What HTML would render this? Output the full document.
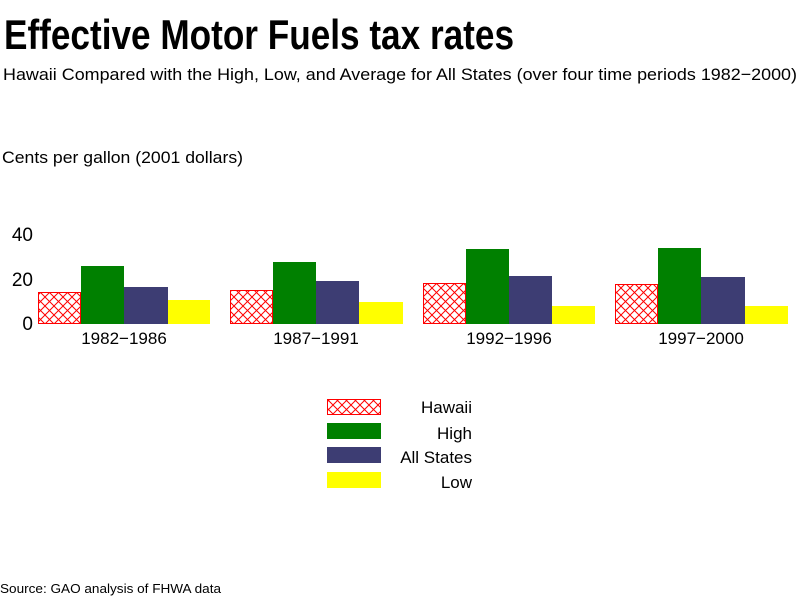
<!DOCTYPE html>
<html><head><meta charset="utf-8"><style>body{margin:0;background:#fff}svg{display:block}</style></head><body>
<svg width="800" height="600" xmlns="http://www.w3.org/2000/svg" font-family="Liberation Sans, Arial, sans-serif">
<defs>
<pattern id="h" width="9" height="9" patternUnits="userSpaceOnUse">
<rect width="9" height="9" fill="#fff"/>
<path d="M0,0L9,9M9,0L0,9" stroke="#f00" stroke-width="1"/>
</pattern>
</defs>
<rect width="800" height="600" fill="#fff"/>
<text x="4" y="49" font-size="42" font-weight="bold" textLength="510" lengthAdjust="spacingAndGlyphs">Effective Motor Fuels tax rates</text>
<text x="3" y="80" font-size="17" textLength="794" lengthAdjust="spacingAndGlyphs">Hawaii Compared with the High, Low, and Average for All States (over four time periods 1982−2000)</text>
<text x="2" y="163" font-size="17" textLength="241" lengthAdjust="spacingAndGlyphs">Cents per gallon (2001 dollars)</text>
<g font-size="19" text-anchor="end">
<text x="33" y="241">40</text>
<text x="33" y="286">20</text>
<text x="33" y="330">0</text>
</g>
<g stroke-width="1">
<rect x="38.5" y="292.5" width="42" height="31" fill="url(#h)" stroke="#f00"/>
<rect x="81" y="266" width="43" height="58" fill="#008000"/>
<rect x="124" y="287" width="44" height="37" fill="#3d3d73"/>
<rect x="168" y="300" width="42" height="24" fill="#ffff00"/>

<rect x="230.5" y="290.5" width="42" height="33" fill="url(#h)" stroke="#f00"/>
<rect x="273" y="262" width="43" height="62" fill="#008000"/>
<rect x="316" y="281" width="43" height="43" fill="#3d3d73"/>
<rect x="359" y="302" width="44" height="22" fill="#ffff00"/>

<rect x="423.5" y="283.5" width="42" height="40" fill="url(#h)" stroke="#f00"/>
<rect x="466" y="249" width="43" height="75" fill="#008000"/>
<rect x="509" y="276" width="43" height="48" fill="#3d3d73"/>
<rect x="552" y="306" width="43" height="18" fill="#ffff00"/>

<rect x="615.5" y="284.5" width="42" height="39" fill="url(#h)" stroke="#f00"/>
<rect x="658" y="248" width="43" height="76" fill="#008000"/>
<rect x="701" y="277" width="44" height="47" fill="#3d3d73"/>
<rect x="745" y="306" width="43" height="18" fill="#ffff00"/>
</g>
<g font-size="17" text-anchor="middle">
<text x="124" y="344">1982−1986</text>
<text x="316" y="344">1987−1991</text>
<text x="509" y="344">1992−1996</text>
<text x="701" y="344">1997−2000</text>
</g>
<rect x="327.5" y="399.5" width="53" height="15" fill="url(#h)" stroke="#f00"/>
<rect x="327" y="423" width="54" height="16" fill="#008000"/>
<rect x="327" y="447" width="54" height="16" fill="#3d3d73"/>
<rect x="327" y="472" width="54" height="16" fill="#ffff00"/>
<g font-size="17" text-anchor="end">
<text x="472" y="413">Hawaii</text>
<text x="472" y="439">High</text>
<text x="472" y="463">All States</text>
<text x="472" y="488">Low</text>
</g>
<text x="0" y="593" font-size="13" textLength="221" lengthAdjust="spacingAndGlyphs">Source: GAO analysis of FHWA data</text>
</svg>
</body></html>
